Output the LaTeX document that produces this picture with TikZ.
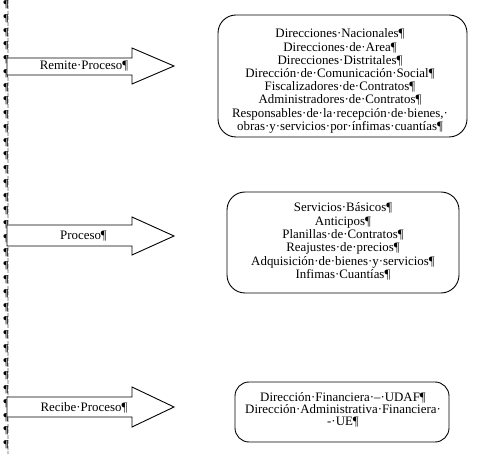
\documentclass[tikz,border=0pt]{standalone}
\usepackage{fontspec}
\setmainfont{Liberation Serif}
\begin{document}
\begin{tikzpicture}[x=1pt,y=-1pt,
  arrowshape/.style={draw=black,line width=0.9pt,fill=white,line join=miter},
  roundbox/.style={draw=black,line width=0.9pt,fill=white,rectangle,rounded corners=18pt,inner sep=0pt},
  boxtext/.style={align=center,inner sep=0pt,font=\fontsize{12.9}{13.2}\selectfont},
  arrowtext/.style={inner sep=0pt,font=\fontsize{12.9}{14}\selectfont},
  pil/.style={inner sep=0pt,font=\fontsize{10.5}{11}\selectfont\bfseries}
]
\useasboundingbox (0,0) rectangle (482,454);
% left margin marks
\coordinate (gtop) at (8,0);
\coordinate (gbot) at (8,454);
\draw[gray!45,line width=1.6pt,dash pattern=on 4pt off 1.5pt] (gtop) -- (gbot);
\foreach \k in {0,...,32}{
  \node[pil] (p\k) at (6,{4.8+13.75*\k}) {¶};
}
% arrows
\foreach \n/\yt/\yb/\ht/\hb/\yc in {a/58/75/48/84/66, b/225/246/217/255/236, c/397/417/387/427/407}{
  \draw[arrowshape] (7,\yt) -- (132,\yt) -- (132,\ht) -- (174,\yc) -- (132,\hb) -- (132,\yb) -- (7,\yb) -- cycle;
}
\node[arrowtext] (ta) at (84,66.5) {Remite·Proceso¶};
\node[arrowtext] (tb) at (83.5,236.5) {Proceso¶};
\node[arrowtext] (tc) at (84,407.5) {Recibe·Proceso¶};
% boxes
\node[roundbox,minimum width=249pt,minimum height=122pt] (b1) at (342.5,76) {};
\node[boxtext] (t1) at (340,81) {Direcciones·Nacionales¶\\Direcciones·de·Area¶\\Direcciones·Distritales¶\\Dirección·de·Comunicación·Social¶\\Fiscalizadores·de·Contratos¶\\Administradores·de·Contratos¶\\Responsables·de·la·recepción·de·bienes,·\\obras·y·servicios·por·ínfimas·cuantías¶};
\node[roundbox,minimum width=232pt,minimum height=101pt] (b2) at (343,242.5) {};
\node[boxtext,font=\fontsize{12.9}{13.4}\selectfont] (t2) at (343,241.5) {Servicios·Básicos¶\\Anticipos¶\\Planillas·de·Contratos¶\\Reajustes·de·precios¶\\Adquisición·de·bienes·y·servicios¶\\Infimas·Cuantías¶};
\node[roundbox,rounded corners=14pt,minimum width=214pt,minimum height=60pt] (b3) at (342,412) {};
\node[boxtext,font=\fontsize{12.9}{12}\selectfont] (t3) at (343,410) {Dirección·Financiera·–·UDAF¶\\Dirección·Administrativa·Financiera·\\-·UE¶};
\end{tikzpicture}
\end{document}
